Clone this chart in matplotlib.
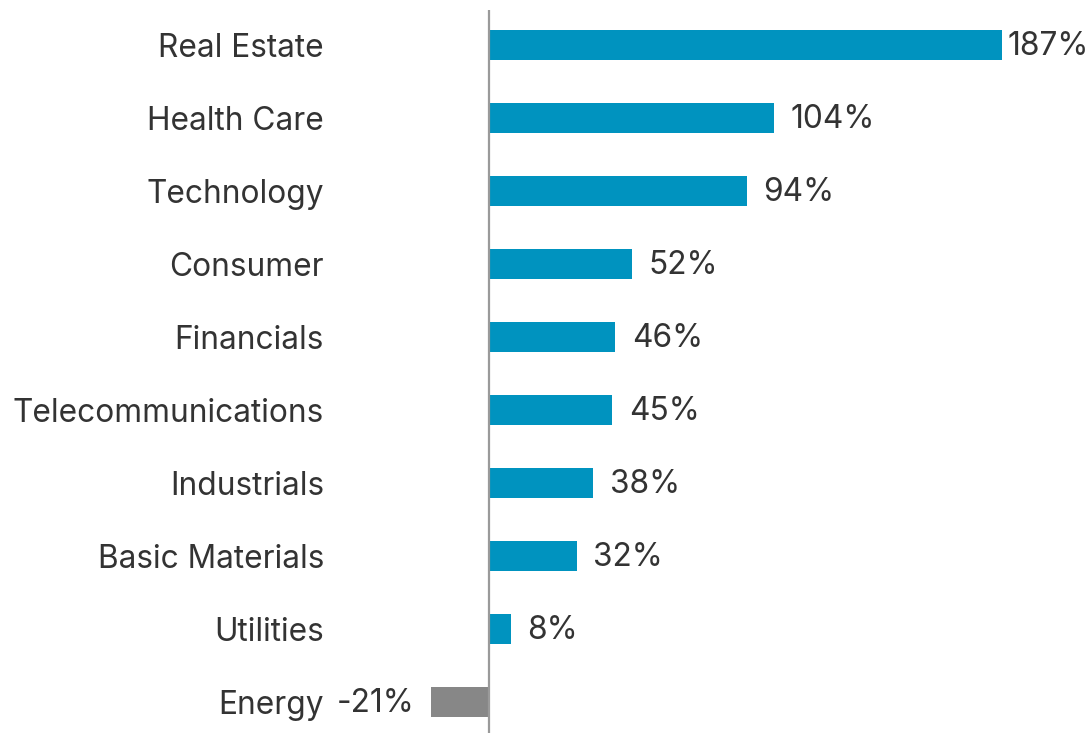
import matplotlib
matplotlib.use("Agg")
import matplotlib.pyplot as plt

sectores = ["Real Estate", "Health Care", "Technology", "Consumer", "Financials",
            "Telecommunications", "Industrials", "Basic Materials", "Utilities", "Energy"]
valores = [187, 104, 94, 52, 46, 45, 38, 32, 8, -21]
etiquetas = ["187%", "104%", "94%", "52%", "46%", "45%", "38%", "32%", "8%", "-21%"]

AZUL = "#0093BF"
GRIS = "#878787"
TEXTO = "#333333"

plt.rcParams["font.family"] = ["Inter", "DejaVu Sans"]

fig = plt.figure(figsize=(10.89, 7.33), dpi=100)
W, H = 1089, 733
# ejes colocados en pixeles: x=-25 -> 420 px, x=200 -> 1037 px
ax = fig.add_axes([420.4 / W, 0, 617.2 / W, 1 - 10 / H])

y = list(range(len(sectores)))
colores = [AZUL if v >= 0 else GRIS for v in valores]
ax.barh(y, valores, height=0.40, color=colores, zorder=2)

ax.set_xlim(-25, 200)
ax.set_ylim(9.425, -0.479)
ax.axvline(0, color="#9a9a9a", lw=1.6, zorder=3)

ax.set_yticks(y)
ax.set_yticklabels(sectores, fontsize=22.8, color=TEXTO)
ax.tick_params(axis="y", length=0, pad=69.4)
ax.set_xticks([])
for s in ax.spines.values():
    s.set_visible(False)

vmax = max(valores)
for yi, v, txt in zip(y, valores, etiquetas):
    if v >= 0:
        dx = 4 if v == vmax else 12
        ax.annotate(txt, (v, yi), xytext=(dx, -1), textcoords="offset points",
                    ha="left", va="center", fontsize=22.8, color=TEXTO,
                    annotation_clip=False)
    else:
        ax.annotate(txt, (v, yi), xytext=(-12, -1), textcoords="offset points",
                    ha="right", va="center", fontsize=22.8, color=TEXTO,
                    annotation_clip=False)

fig.savefig("out.png", dpi=100)
